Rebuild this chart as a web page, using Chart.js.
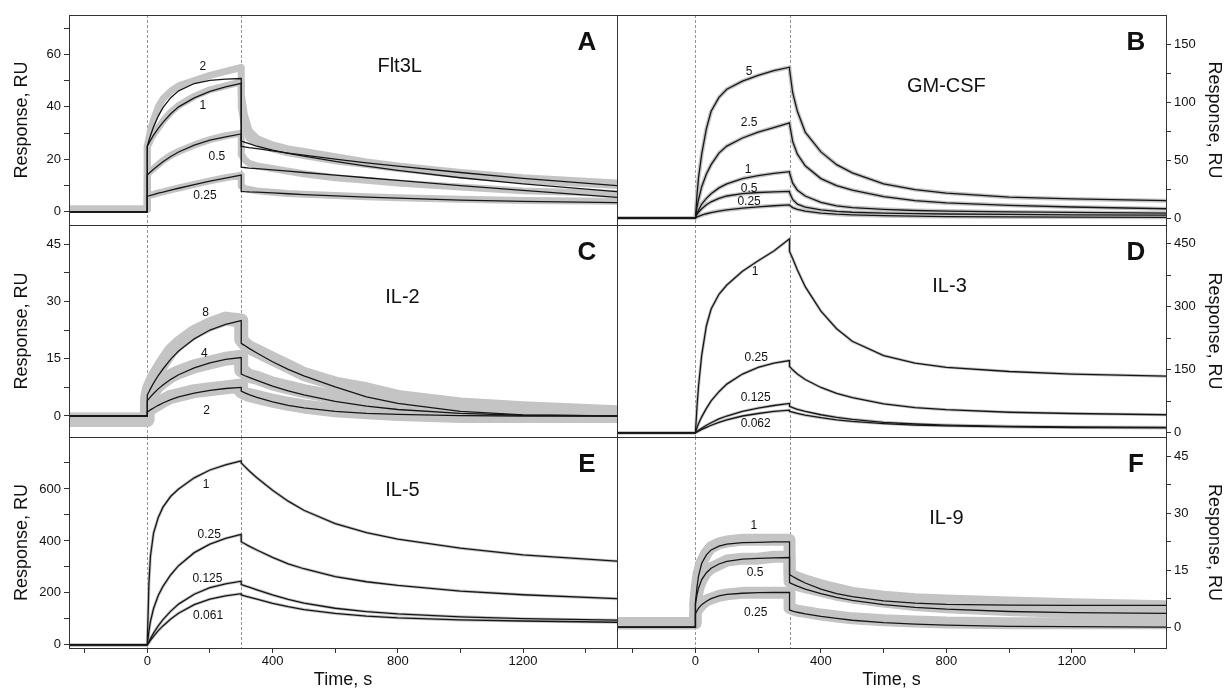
<!DOCTYPE html>
<html><head><meta charset="utf-8">
<script src="https://cdn.jsdelivr.net/npm/chart.js@4.4.0/dist/chart.umd.min.js"></script>
<style>
html,body{margin:0;padding:0;background:#fff;width:1227px;height:691px;overflow:hidden}
canvas{position:absolute;left:0;top:0}
</style></head><body>
<canvas id="cA" width="1227" height="691"></canvas>
<canvas id="cB" width="1227" height="691"></canvas>
<canvas id="cC" width="1227" height="691"></canvas>
<canvas id="cD" width="1227" height="691"></canvas>
<canvas id="cE" width="1227" height="691"></canvas>
<canvas id="cF" width="1227" height="691"></canvas>
<script>
// ---------- shared time grid (s) ----------
const timeGrid = [-250,0,0,5,10,20,35,50,75,100,150,200,250,300,300,310,325,350,400,450,500,600,700,800,1000,1200,1500];
const injectionMarks = [0, 300];
const xMajorTicks = [0, 400, 800, 1200];
const xMinorTicks = [-200, 200, 600, 1000, 1400];

// ---------- A: Flt3L ----------
const flt3lFit2   = [0,0,25,27.1,29,32.4,36.5,39.7,43.5,46.1,48.9,50.1,50.6,50.8,27,26.6,26,25,23.5,22.3,21.2,19.2,17.4,15.8,13,10.7,7.7];
const flt3lFit1   = [0,0,25,26.1,27.2,29.2,31.8,34.1,37.4,40,43.4,45.9,47.6,49,25,24.8,24.5,24.1,23.2,22.4,21.6,20.1,18.7,17.4,15,12.8,10];
const flt3lFit05  = [0,0,14,14.6,15.2,16.2,17.7,19.1,21.1,22.8,25.4,27.3,28.6,29.7,17,16.9,16.7,16.5,16,15.5,15,14,13,12,10,8.2,5.5];
const flt3lFit025 = [0,0,6,6.1,6.3,6.6,7.1,7.5,8.3,9,10.4,11.7,12.9,14,7.8,7.7,7.6,7.5,7.2,6.9,6.6,6.1,5.6,5.2,4.5,4,3.5];
const flt3lObs2   = [1,1,25,28,31,35,40,43,46,48,50,52,53.5,55,45,37,31,28,25.5,24,23,21,19,17.5,15,13,11];
const flt3lObs1   = [1,1,25,26,27.5,29.5,32,34.5,38,40.5,44,46.5,48,49.5,40,33,28,26,24,22.5,21.5,19.5,18,16.5,14,12,10];
const flt3lObs05  = [1,1,14,15,15.5,16.5,18,19.5,21.5,23,25.5,27.5,29,30,22,20,18.5,17.5,16.5,15.5,14.5,13,12,11,9.5,8,7];
const flt3lObs025 = [1,1,6,6.2,6.4,6.7,7.2,7.6,8.4,9.1,10.5,11.8,13,14,10,9,8.5,8,7.5,7,6.7,6.2,5.8,5.4,4.8,4.3,4];
const flt3lYMajor = [0,20,40,60];
const flt3lYMinor = [10,30,50,70];

// ---------- B: GM-CSF ----------
const gmcsfFit5   = [0,0,0,20,35,55,77,92,104,111,118,123,127,130,128,108,92,74,57,46,39,29.5,24.5,21.5,18,16.5,15];
const gmcsfFit25  = [0,0,0,9,16,27,38,46,56,62,69,74,78,82,81,66,55,45,34,28,24,18.5,15,13,11,9.5,8];
const gmcsfFit1   = [0,0,0,4,7,12,17,21,26,29.5,34,36.5,38.5,40,39,30,24,19,13.5,10.5,9,7.5,6.5,6,5.3,4.8,4.2];
const gmcsfFit05  = [0,0,0,3,5,8,11.5,14,17,19,21,22,22.5,23,22,16,12,9.5,7,5.8,5,4.2,3.8,3.5,3.1,2.8,2.5];
const gmcsfFit025 = [0,0,0,1,1.5,2.5,3.7,4.7,6,7,8.5,9.7,10.6,11.3,11,9,7.5,6,4.3,3.3,2.7,2,1.6,1.3,1,0.8,0.6];
const gmcsfYMajor = [0,50,100,150];
const gmcsfYMinor = [25,75,125];

// ---------- C: IL-2 ----------
const il2Fit8 = [0,0,5.5,6.3,7.1,8.6,10.6,12.3,14.9,17,20.2,22.5,24,25,19,18.5,17.7,16.5,14.2,12.2,10.5,7.6,5,3.3,1.2,0.3,0];
const il2Fit4 = [0,0,4,4.5,5,5.9,7.1,8.1,9.6,10.8,12.6,13.9,14.8,15.3,11,10.6,10.1,9.3,7.8,6.6,5.5,3.8,2.6,1.7,0.7,0.2,0];
const il2Fit2 = [0,0,1,1.3,1.6,2.1,2.8,3.4,4.3,5,6,6.7,7.2,7.5,6.5,6.1,5.6,4.9,3.7,2.8,2.1,1.2,0.7,0.4,0.1,0,0];
const il2Obs8 = [-1,-1,5,7,8,10,12,14,17,19,22,24,25.5,25,20,19,18,17,15,13,11,8.5,7,5,3,2,1];
const il2Obs4 = [-1,-1,4,5,5.5,6.5,8,9,10.5,11.5,13,14,15,15.5,12,11.5,10.5,10,8.5,7.5,6.5,5,4,3,1.5,1,0.5];
const il2Obs2 = [-1,-1,1,1.5,2,2.5,3.2,4,5,5.5,6.5,7,7.5,8,6.5,6,5.5,5,4,3.2,2.5,1.5,1,0.5,0,0,0];
const il2YMajor = [0,15,30,45];
const il2YMinor = [7.5,22.5,37.5];

// ---------- D: IL-3 ----------
const il3Fit1    = [0,0,0,62,112,185,255,295,330,352,385,410,433,462,432,415,388,348,290,248,218,184,166,156,146,140,135];
const il3Fit025  = [0,0,0,12,22,38,58,76,98,116,140,156,166,172,158,150,140,127,108,94,84,69,60,55,49,46,43];
const il3Fit0125 = [0,0,0,3,6,11,18,24,33,40,51,59,65,70,63,60,56,51,43,37,32,25,21,18.5,15.5,14,13];
const il3Fit0062 = [0,0,0,2,4,8,13,18,25,31,40,46,51,54,51,49,46,42,36,31,27,22,18.5,16.5,14,12.5,11.5];
const il3YMajor = [0,150,300,450];
const il3YMinor = [75,225,375];

// ---------- E: IL-5 ----------
const il5Fit1    = [0,0,0,230,340,430,490,530,572,600,643,673,693,708,700,688,670,643,595,553,518,467,432,407,372,346,322];
const il5Fit025  = [0,0,0,50,90,140,190,225,270,305,355,388,410,425,397,390,380,365,337,312,293,263,243,229,207,193,178];
const il5Fit0125 = [0,0,0,12,24,45,73,97,130,157,195,220,235,245,232,228,222,212,192,175,161,141,128,119,108,101,95];
const il5Fit0061 = [0,0,0,8,17,33,55,73,100,122,155,176,189,197,192,189,184,176,160,147,136,121,111,104,96,92,87];
const il5YMajor = [0,200,400,600];
const il5YMinor = [100,300,500,700];

// ---------- F: IL-9 ----------
const il9Fit1   = [0,0,6.5,10.5,13.5,16.8,19,20.3,21.3,21.8,22.2,22.3,22.4,22.4,13.8,13.3,12.6,11.6,10,8.8,8,6.9,6.3,6,5.8,5.7,5.7];
const il9Fit05  = [0,0,6,8.5,10.3,12.5,14.3,15.5,16.6,17.3,17.9,18.1,18.2,18.3,11.7,11.3,10.8,10,8.8,7.8,7,5.9,5.2,4.7,4.1,3.8,3.6];
const il9Fit025 = [0,0,3.5,4.3,5,5.9,6.8,7.5,8.2,8.6,8.9,9.05,9.1,9.1,4.5,4.2,3.9,3.5,2.8,2.3,1.8,1.2,0.8,0.5,0.2,0.1,0];
const il9Obs1   = [1,1,7,11,14,17,19.5,21,22,22.5,23,23,23,23,14,13.5,13,12.3,11,10,9,8,7.3,7,6.5,6,5.5];
const il9Obs05  = [1,1,6,8.5,10.5,12.5,14.5,15.5,16.5,17.5,18,18,18.5,18.5,12,11.5,11,10.5,9.5,8.5,7.8,6.7,5.8,5.2,4.5,4,3.5];
const il9Obs025 = [1,1,3.5,4.5,5,6,7,7.5,8.2,8.6,9,9,9,9,5,4.7,4.3,4,3.3,2.8,2.3,1.8,1.5,1.2,1,1,1];
const il9YMajor = [0,15,30,45];
const il9YMinor = [7.5,22.5,37.5];

// concentration labels: [text, time, response]
const flt3lLabels = [['2',177,55.3],['1',177,40.3],['0.5',222,21],['0.25',184,6.1]];
const gmcsfLabels = [['5',171,126],['2.5',171,82],['1',168,41.4],['0.5',171,25.7],['0.25',171,14.3]];
const il2Labels   = [['8',186,27],['4',182,16.4],['2',189,1.3]];
const il3Labels   = [['1',190,384],['0.25',194,180],['0.125',192,84],['0.062',192,21.6]];
const il5Labels   = [['1',188,615],['0.25',198,425],['0.125',192,256],['0.061',194,114]];
const il9Labels   = [['1',186,26.7],['0.5',190,14.3],['0.25',192,3.7]];

const FONT = '"Liberation Sans", Arial, sans-serif';
const toXY = vals => timeGrid.map((t, i) => ({x: t, y: vals[i]}));

const panelPlugin = {
  id: 'panel',
  beforeDatasetsDraw(chart) {
    const {ctx, chartArea: a, scales: {x}} = chart;
    ctx.save();
    ctx.strokeStyle = '#7a7a7a'; ctx.lineWidth = 0.8; ctx.setLineDash([3, 2]);
    injectionMarks.forEach(t => {
      const px = Math.round(x.getPixelForValue(t)) + 0.5;
      ctx.beginPath(); ctx.moveTo(px, a.top); ctx.lineTo(px, a.bottom); ctx.stroke();
    });
    ctx.restore();
  },
  afterDatasetsDraw(chart, args, p) {
    const {ctx, chartArea: a, scales: {x, y}} = chart;
    ctx.save();
    ctx.fillStyle = '#111'; ctx.textAlign = 'center'; ctx.textBaseline = 'middle';
    ctx.font = '12px ' + FONT;
    p.labels.forEach(([txt, t, v]) => ctx.fillText(txt, x.getPixelForValue(t), y.getPixelForValue(v)));
    ctx.font = '20px ' + FONT;
    ctx.fillText(p.name, x.getPixelForValue(p.namePos[0]), y.getPixelForValue(p.namePos[1]));
    ctx.font = 'bold 26px ' + FONT;
    ctx.fillText(p.letter, a.right - 30, a.top + 28);
    ctx.strokeStyle = '#333'; ctx.lineWidth = 1; ctx.setLineDash([]);
    ctx.strokeRect(a.left + 0.5, a.top + 0.5, a.right - a.left, a.bottom - a.top);
    ctx.restore();
  }
};

function makePanel(id, cfg) {
  const rowTop = [15, 225, 437][cfg.row];
  const rowBottom = [225, 437, 648][cfg.row];
  const isBottom = cfg.row === 2;
  const isLeft = cfg.col === 0;
  const padding = {
    left: isLeft ? 0 : 617,
    right: isLeft ? 1227 - 617 : 0,
    top: rowTop,
    bottom: isBottom ? 0 : 691 - rowBottom
  };
  const datasets = [];
  cfg.fits.forEach(v => datasets.push({data: toXY(v), borderColor: '#161616', borderWidth: 1.3, order: 0, fill: false}));
  cfg.obs.forEach(v => datasets.push({data: toXY(v), borderColor: '#c4c4c4', borderWidth: cfg.obsWidth, order: 1, fill: false, borderJoinStyle: 'round'}));
  const yTicks = cfg.yMajor.concat(cfg.yMinor).sort((a, b) => a - b);
  const xTicks = xMajorTicks.concat(xMinorTicks).sort((a, b) => a - b);
  new Chart(document.getElementById(id), {
    type: 'line',
    data: {datasets},
    options: {
      responsive: false, animation: false, events: [],
      layout: {padding},
      elements: {point: {radius: 0}, line: {tension: 0}},
      plugins: {
        legend: {display: false}, tooltip: {enabled: false},
        panel: {labels: cfg.labels, name: cfg.name, namePos: cfg.namePos, letter: cfg.letter}
      },
      scales: {
        x: {
          type: 'linear', min: -250, max: 1500, display: isBottom, position: 'bottom',
          afterBuildTicks: s => { s.ticks = xTicks.map(v => ({value: v})); },
          afterFit: s => { s.height = isBottom ? 43 : 0; },
          ticks: {autoSkip: false, maxRotation: 0, padding: 1, color: '#111', font: {family: FONT, size: 13},
                  callback: v => xMajorTicks.includes(v) ? String(v) : ''},
          grid: {drawOnChartArea: false, drawTicks: true, tickLength: 5, color: '#333'},
          border: {display: false},
          title: {display: true, text: 'Time, s', color: '#111', font: {family: FONT, size: 18}, padding: {top: 0, bottom: 0}}
        },
        y: {
          type: 'linear', min: cfg.yMin, max: cfg.yMax, position: isLeft ? 'left' : 'right',
          afterBuildTicks: s => { s.ticks = yTicks.map(v => ({value: v})); },
          afterFit: s => { s.width = isLeft ? 69 : 61; },
          ticks: {autoSkip: false, padding: 3, color: '#111', font: {family: FONT, size: 13},
                  callback: v => cfg.yMajor.includes(v) ? String(v) : ''},
          grid: {drawOnChartArea: false, drawTicks: true, tickLength: 5, color: '#333'},
          border: {display: false},
          title: {display: true, text: 'Response, RU', color: '#111', font: {family: FONT, size: 18},
                  padding: {top: isLeft ? 11 : 2, bottom: 0}}
        }
      }
    },
    plugins: [panelPlugin]
  });
}

makePanel('cA', {row: 0, col: 0, yMin: -5, yMax: 75, yMajor: flt3lYMajor, yMinor: flt3lYMinor,
  fits: [flt3lFit2, flt3lFit1, flt3lFit05, flt3lFit025], obs: [flt3lObs2, flt3lObs1, flt3lObs05, flt3lObs025], obsWidth: 7,
  labels: flt3lLabels, name: 'Flt3L', namePos: [806, 55.5], letter: 'A'});
makePanel('cB', {row: 0, col: 1, yMin: -6, yMax: 175, yMajor: gmcsfYMajor, yMinor: gmcsfYMinor,
  fits: [gmcsfFit5, gmcsfFit25, gmcsfFit1, gmcsfFit05, gmcsfFit025], obs: [gmcsfFit5, gmcsfFit25, gmcsfFit1, gmcsfFit05, gmcsfFit025], obsWidth: 4,
  labels: gmcsfLabels, name: 'GM-CSF', namePos: [800, 113], letter: 'B'});
makePanel('cC', {row: 1, col: 0, yMin: -5.5, yMax: 50, yMajor: il2YMajor, yMinor: il2YMinor,
  fits: [il2Fit8, il2Fit4, il2Fit2], obs: [il2Obs8, il2Obs4, il2Obs2], obsWidth: 14,
  labels: il2Labels, name: 'IL-2', namePos: [815, 31], letter: 'C'});
makePanel('cD', {row: 1, col: 1, yMin: -10, yMax: 495, yMajor: il3YMajor, yMinor: il3YMinor,
  fits: [il3Fit1, il3Fit025, il3Fit0125, il3Fit0062], obs: [il3Fit1, il3Fit025, il3Fit0125, il3Fit0062], obsWidth: 3,
  labels: il3Labels, name: 'IL-3', namePos: [810, 348], letter: 'D'});
makePanel('cE', {row: 2, col: 0, yMin: -12, yMax: 800, yMajor: il5YMajor, yMinor: il5YMinor,
  fits: [il5Fit1, il5Fit025, il5Fit0125, il5Fit0061], obs: [il5Fit1, il5Fit025, il5Fit0125, il5Fit0061], obsWidth: 3,
  labels: il5Labels, name: 'IL-5', namePos: [815, 595], letter: 'E'});
makePanel('cF', {row: 2, col: 1, yMin: -5.5, yMax: 50, yMajor: il9YMajor, yMinor: il9YMinor,
  fits: [il9Fit1, il9Fit05, il9Fit025], obs: [il9Obs1, il9Obs05, il9Obs025], obsWidth: 12,
  labels: il9Labels, name: 'IL-9', namePos: [800, 28.5], letter: 'F'});
</script>
</body></html>
